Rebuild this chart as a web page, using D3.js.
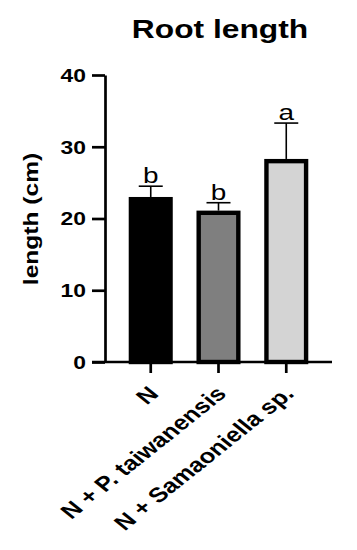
<!DOCTYPE html>
<html>
<head>
<meta charset="utf-8">
<script src="https://cdn.jsdelivr.net/npm/d3@7"></script>
<style>
  body { margin: 0; background: #fff; }
  svg { display: block; font-family: "Liberation Sans", Arial, sans-serif; }
</style>
</head>
<body>
<div id="chart"></div>
<script>
// data
const groups = ["N", "N + P. taiwanensis", "N + Samaoniella sp."];
const means = [23.0, 21.1, 28.3];
const errors = [1.5, 1.1, 5.0];
const letters = ["b", "b", "a"];
const fills = ["#000000", "#7f7f7f", "#d4d4d4"];
const yTicks = [0, 10, 20, 30, 40];

const width = 357, height = 550;
// the figure looks stretched sideways, so the lettering is wider than plain Arial
const stretch = 1.27;

const svg = d3.select("#chart")
  .append("svg")
  .attr("width", width)
  .attr("height", height);

// scales
const x = d3.scaleBand()
  .domain(groups)
  .range([105, 332])
  .paddingInner(0.35)
  .paddingOuter(0.35);

const y = d3.scaleLinear()
  .domain([0, 40])
  .range([362, 75]);

// title
svg.append("text")
  .attr("transform", `translate(220,38) scale(${stretch},1)`)
  .attr("text-anchor", "middle")
  .attr("font-size", 25)
  .attr("font-weight", "bold")
  .text("Root length");

// y label
svg.append("text")
  .attr("transform", "translate(38,219) rotate(-90) scale(1.17,1)")
  .attr("text-anchor", "middle")
  .attr("font-size", 21)
  .attr("font-weight", "bold")
  .text("length (cm)");

// bars
const bw = x.bandwidth();
svg.selectAll("rect.bar")
  .data(groups)
  .enter()
  .append("rect")
  .attr("class", "bar")
  .attr("x", (d) => x(d) + 2.2)
  .attr("y", (d, i) => y(means[i]) + 2.2)
  .attr("width", bw - 4.4)
  .attr("height", (d, i) => y(0) - y(means[i]) - 2.2)
  .attr("fill", (d, i) => fills[i])
  .attr("stroke", "#000")
  .attr("stroke-width", 4.4);

// error bars (upper only)
const eb = svg.append("g").attr("stroke", "#000").attr("stroke-width", 1.6);
groups.forEach((g, i) => {
  const cx = x(g) + bw / 2;
  eb.append("line")
    .attr("x1", cx).attr("x2", cx)
    .attr("y1", y(means[i])).attr("y2", y(means[i] + errors[i]));
  eb.append("line")
    .attr("x1", cx - 12).attr("x2", cx + 12)
    .attr("y1", y(means[i] + errors[i])).attr("y2", y(means[i] + errors[i]));
});

// significance letters
svg.selectAll("text.letter")
  .data(groups)
  .enter()
  .append("text")
  .attr("class", "letter")
  .attr("transform", (d, i) =>
    `translate(${x(d) + bw / 2},${y(means[i] + errors[i]) - 3}) scale(${stretch},1)`)
  .attr("text-anchor", "middle")
  .attr("font-size", 22)
  .text((d, i) => letters[i]);

// axes
const yAxis = svg.append("g")
  .attr("transform", "translate(105,0)")
  .call(d3.axisLeft(y).tickValues(yTicks).tickSize(13).tickSizeOuter(0));

const xAxis = svg.append("g")
  .attr("transform", "translate(0,362)")
  .call(d3.axisBottom(x).tickSize(11).tickSizeOuter(0));

[yAxis, xAxis].forEach((a) => {
  a.select(".domain").attr("stroke-width", 2.7);
  a.selectAll(".tick line").attr("stroke-width", 2.7);
  a.selectAll("text")
    .attr("font-family", "'Liberation Sans', Arial, sans-serif")
    .attr("font-weight", "bold")
    .attr("fill", "#000");
});

yAxis.selectAll(".tick text")
  .attr("font-size", 18)
  .attr("x", 0)
  .attr("dy", "0.36em")
  .attr("transform", `translate(-19,0) scale(${stretch},1)`);

// extend x axis left under the zero tick
xAxis.select(".domain").attr("d", "M92,0H332");

// 45 degree labels, then the same sideways stretch as the rest of the figure
xAxis.selectAll(".tick text")
  .attr("font-size", 20.5)
  .attr("text-anchor", "end")
  .attr("dy", null)
  .attr("y", 0)
  .attr("transform", "translate(9,33) scale(1.25,1) rotate(-45)");
</script>
</body>
</html>
